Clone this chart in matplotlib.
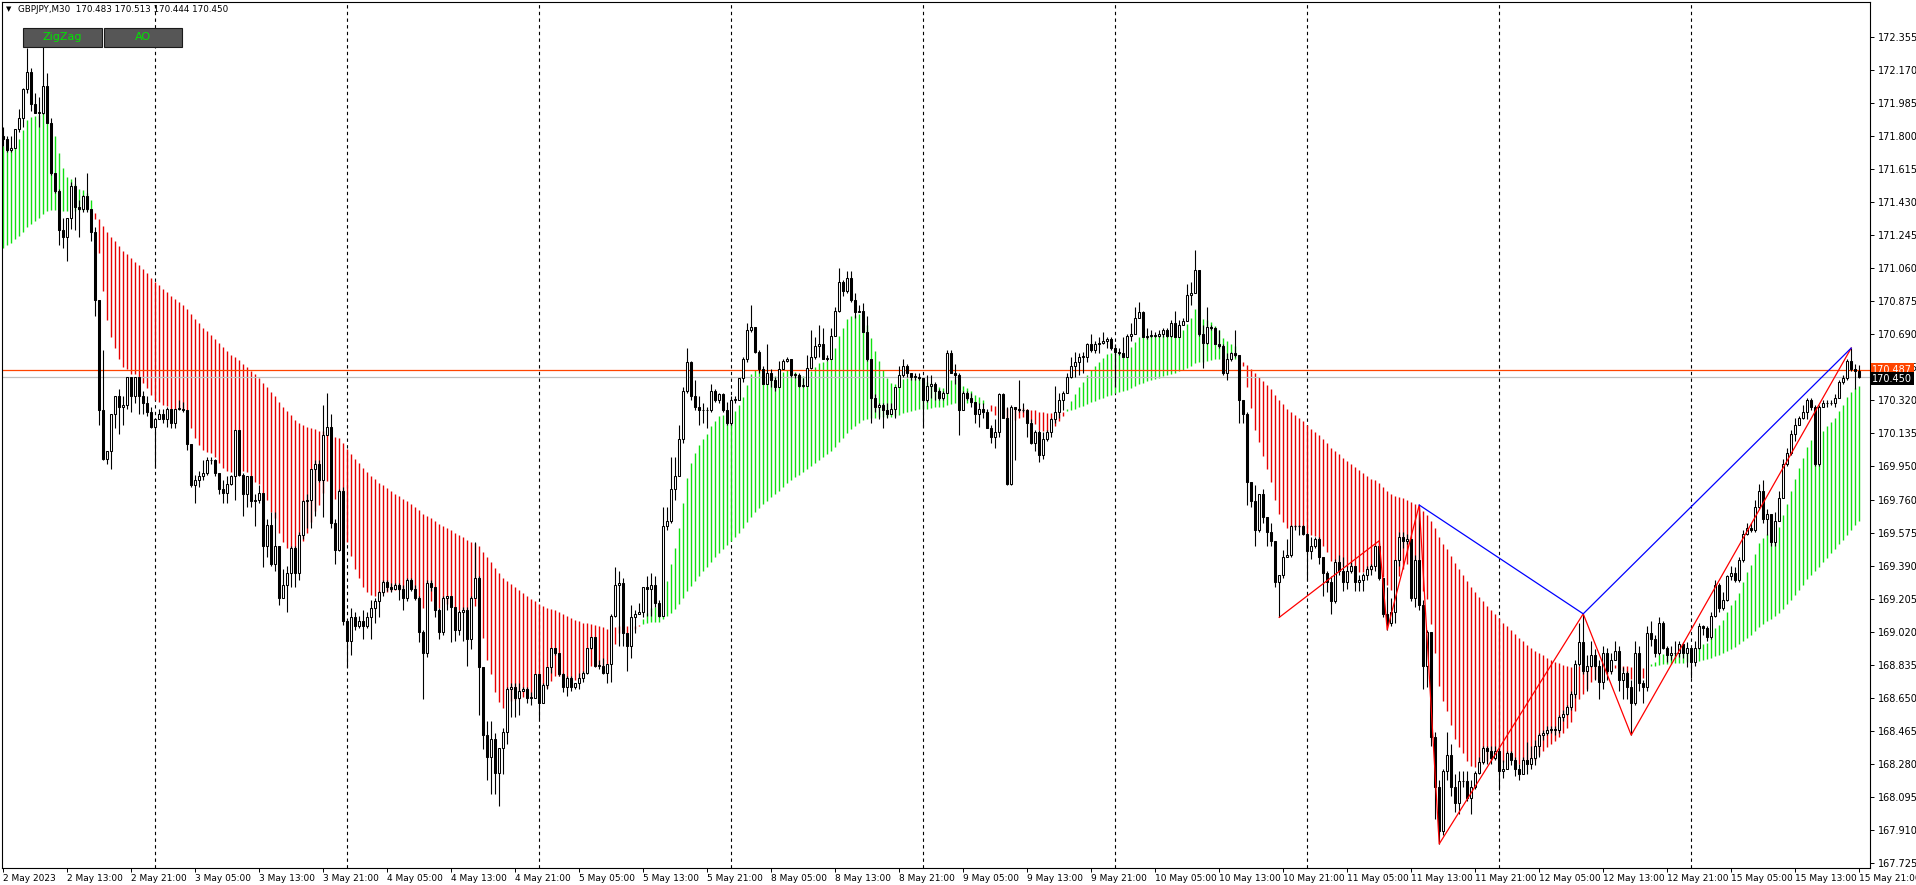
import numpy as np
import matplotlib
matplotlib.use("Agg")
import matplotlib.pyplot as plt
import matplotlib.transforms as mtransforms
from matplotlib.patches import Rectangle

# GBPJPY M30, one value per bar, bar 0 = 2 May 2023 05:00
first_open = 171.80

close = [
    171.78, 171.72, 171.73, 171.84, 171.90, 172.06, 172.16, 171.98, 171.93, 171.93,
    172.08, 171.87, 171.59, 171.49, 171.27, 171.23, 171.34, 171.52, 171.40, 171.39,
    171.46, 171.39, 171.26, 170.88, 170.26, 169.99, 170.03, 170.24, 170.34, 170.28,
    170.29, 170.45, 170.34, 170.45, 170.34, 170.30, 170.25, 170.17, 170.21, 170.24,
    170.21, 170.27, 170.19, 170.27, 170.27, 170.26, 170.07, 169.84, 169.87, 169.89,
    169.91, 169.98, 169.98, 169.91, 169.82, 169.80, 169.85, 169.89, 170.15, 169.90,
    169.79, 169.89, 169.75, 169.76, 169.80, 169.50, 169.62, 169.40, 169.50, 169.21,
    169.28, 169.35, 169.49, 169.35, 169.56, 169.75, 169.76, 169.93, 169.96, 169.87,
    170.12, 170.17, 169.63, 169.48, 169.81, 169.08, 168.97, 169.10, 169.05, 169.08,
    169.05, 169.10, 169.15, 169.19, 169.24, 169.30, 169.27, 169.26, 169.28, 169.26,
    169.21, 169.31, 169.26, 169.21, 169.02, 168.90, 169.29, 169.27, 169.14, 169.02,
    169.21, 169.22, 169.16, 169.03, 169.13, 169.14, 168.98, 169.21, 169.32, 168.82,
    168.44, 168.32, 168.42, 168.23, 168.37, 168.46, 168.70, 168.71, 168.65, 168.69,
    168.70, 168.65, 168.65, 168.78, 168.62, 168.72, 168.82, 168.93, 168.90, 168.78,
    168.71, 168.76, 168.71, 168.73, 168.76, 168.79, 168.93, 168.99, 168.83, 168.83,
    168.79, 168.84, 169.11, 169.28, 169.29, 169.01, 168.94, 169.10, 169.12, 169.13,
    169.27, 169.26, 169.28, 169.18, 169.11, 169.61, 169.64, 169.82, 169.89, 170.10,
    170.37, 170.53, 170.34, 170.28, 170.26, 170.26, 170.26, 170.37, 170.32, 170.35,
    170.26, 170.19, 170.32, 170.32, 170.44, 170.55, 170.71, 170.73, 170.59, 170.49,
    170.41, 170.47, 170.43, 170.39, 170.49, 170.54, 170.55, 170.46, 170.46, 170.40,
    170.40, 170.50, 170.56, 170.62, 170.63, 170.55, 170.55, 170.68, 170.82, 170.98,
    170.93, 171.00, 170.88, 170.81, 170.82, 170.70, 170.55, 170.33, 170.28, 170.29,
    170.26, 170.24, 170.27, 170.39, 170.46, 170.51, 170.47, 170.45, 170.45, 170.44,
    170.32, 170.40, 170.41, 170.37, 170.33, 170.36, 170.58, 170.47, 170.46, 170.26,
    170.36, 170.33, 170.31, 170.24, 170.27, 170.25, 170.16, 170.11, 170.14, 170.35,
    170.22, 169.85, 170.28, 170.27, 170.26, 170.26, 170.19, 170.08, 170.14, 170.01,
    170.10, 170.14, 170.21, 170.25, 170.32, 170.36, 170.45, 170.51, 170.53, 170.56,
    170.56, 170.63, 170.60, 170.63, 170.64, 170.65, 170.66, 170.61, 170.59, 170.58,
    170.56, 170.68, 170.69, 170.78, 170.81, 170.67, 170.68, 170.68, 170.68, 170.69,
    170.71, 170.68, 170.75, 170.67, 170.74, 170.76, 170.91, 170.92, 171.05, 170.69,
    170.64, 170.73, 170.72, 170.63, 170.62, 170.47, 170.55, 170.58, 170.57, 170.32,
    170.24, 169.86, 169.75, 169.59, 169.79, 169.66, 169.58, 169.53, 169.30, 169.34,
    169.44, 169.45, 169.61, 169.61, 169.61, 169.57, 169.47, 169.50, 169.54, 169.44,
    169.35, 169.30, 169.19, 169.41, 169.36, 169.30, 169.36, 169.39, 169.30, 169.31,
    169.34, 169.37, 169.39, 169.50, 169.32, 169.12, 169.07, 169.13, 169.42, 169.55,
    169.53, 169.54, 169.21, 169.42, 169.17, 168.83, 169.02, 168.43, 168.15, 167.90,
    168.24, 168.33, 168.15, 168.06, 168.18, 168.18, 168.09, 168.15, 168.23, 168.29,
    168.37, 168.35, 168.31, 168.35, 168.24, 168.25, 168.34, 168.30, 168.25, 168.22,
    168.30, 168.28, 168.31, 168.38, 168.44, 168.45, 168.47, 168.47, 168.47, 168.54,
    168.56, 168.60, 168.67, 168.84, 168.96, 168.80, 168.83, 168.89, 168.83, 168.74,
    168.90, 168.80, 168.86, 168.91, 168.75, 168.79, 168.71, 168.62, 168.90, 168.73,
    168.71, 169.01, 168.98, 168.90, 169.07, 168.93, 168.89, 168.90, 168.90, 168.95,
    168.90, 168.93, 168.85, 168.93, 169.05, 169.04, 168.99, 169.11, 169.28, 169.15,
    169.20, 169.33, 169.35, 169.31, 169.42, 169.57, 169.60, 169.59, 169.72, 169.81,
    169.65, 169.68, 169.52, 169.64, 169.77, 169.96, 170.02, 170.13, 170.18, 170.22,
    170.25, 170.32, 170.28, 169.96, 170.28, 170.30, 170.30, 170.30, 170.33, 170.42,
    170.44, 170.54, 170.49, 170.483, 170.450,
]

high = [
    171.85, 171.80, 171.80, 171.84, 171.95, 172.07, 172.29, 172.18, 172.04, 172.02,
    172.30, 172.15, 171.90, 171.59, 171.50, 171.34, 171.34, 171.54, 171.57, 171.44,
    171.47, 171.59, 171.39, 171.29, 170.88, 170.60, 170.03, 170.24, 170.34, 170.38,
    170.34, 170.45, 170.45, 170.45, 170.45, 170.37, 170.34, 170.28, 170.22, 170.27,
    170.27, 170.28, 170.27, 170.27, 170.32, 170.31, 170.26, 170.07, 169.90, 169.92,
    169.98, 170.00, 170.00, 169.99, 169.91, 169.87, 169.89, 169.90, 170.15, 170.15,
    169.91, 169.89, 169.89, 169.79, 169.84, 169.80, 169.65, 169.69, 169.69, 169.50,
    169.37, 169.39, 169.50, 169.50, 169.58, 169.76, 169.79, 169.93, 169.98, 169.98,
    170.29, 170.36, 170.24, 169.65, 169.82, 169.83, 169.06, 169.15, 169.13, 169.11,
    169.14, 169.13, 169.20, 169.21, 169.25, 169.31, 169.31, 169.29, 169.29, 169.29,
    169.28, 169.32, 169.32, 169.28, 169.22, 169.03, 169.31, 169.31, 169.27, 169.15,
    169.22, 169.22, 169.22, 169.16, 169.14, 169.16, 169.16, 169.22, 169.52, 169.33,
    168.82, 168.52, 168.52, 168.45, 168.37, 168.48, 168.71, 168.73, 168.73, 168.73,
    168.71, 168.71, 168.68, 168.78, 168.73, 168.73, 168.82, 168.93, 168.93, 168.90,
    168.79, 168.77, 168.77, 168.73, 168.79, 168.80, 168.93, 168.99, 168.99, 168.86,
    168.87, 168.84, 169.12, 169.38, 169.36, 169.32, 169.01, 169.17, 169.14, 169.18,
    169.27, 169.33, 169.35, 169.33, 169.20, 169.72, 169.72, 170.00, 170.00, 170.18,
    170.39, 170.61, 170.54, 170.43, 170.34, 170.30, 170.28, 170.41, 170.38, 170.36,
    170.36, 170.31, 170.34, 170.34, 170.44, 170.56, 170.75, 170.85, 170.73, 170.60,
    170.51, 170.63, 170.49, 170.45, 170.54, 170.55, 170.56, 170.55, 170.47, 170.47,
    170.44, 170.57, 170.71, 170.67, 170.74, 170.72, 170.57, 170.72, 170.84, 171.06,
    170.99, 171.04, 171.04, 170.92, 170.85, 170.86, 170.79, 170.55, 170.35, 170.30,
    170.30, 170.30, 170.30, 170.39, 170.51, 170.55, 170.52, 170.47, 170.47, 170.47,
    170.43, 170.46, 170.46, 170.42, 170.38, 170.37, 170.60, 170.60, 170.52, 170.47,
    170.37, 170.37, 170.36, 170.29, 170.30, 170.30, 170.27, 170.18, 170.21, 170.36,
    170.36, 170.28, 170.29, 170.28, 170.43, 170.30, 170.27, 170.21, 170.15, 170.15,
    170.14, 170.15, 170.22, 170.40, 170.36, 170.37, 170.47, 170.56, 170.59, 170.58,
    170.59, 170.64, 170.69, 170.65, 170.67, 170.70, 170.67, 170.67, 170.63, 170.61,
    170.67, 170.69, 170.75, 170.84, 170.87, 170.82, 170.72, 170.71, 170.70, 170.71,
    170.72, 170.72, 170.77, 170.82, 170.77, 170.78, 170.97, 170.98, 171.16, 171.05,
    170.74, 170.84, 170.74, 170.73, 170.71, 170.63, 170.58, 170.59, 170.71, 170.50,
    170.32, 170.25, 169.86, 169.84, 169.79, 169.82, 169.66, 169.63, 169.53, 169.34,
    169.48, 169.54, 169.62, 169.62, 169.62, 169.62, 169.50, 169.55, 169.55, 169.55,
    169.44, 169.36, 169.33, 169.43, 169.45, 169.44, 169.39, 169.41, 169.36, 169.34,
    169.35, 169.39, 169.40, 169.50, 169.53, 169.32, 169.27, 169.21, 169.42, 169.58,
    169.58, 169.57, 169.54, 169.45, 169.73, 169.20, 169.03, 169.02, 168.46, 168.19,
    168.25, 168.46, 168.39, 168.22, 168.24, 168.24, 168.24, 168.19, 168.24, 168.32,
    168.38, 168.38, 168.38, 168.38, 168.38, 168.30, 168.35, 168.35, 168.32, 168.28,
    168.32, 168.40, 168.38, 168.41, 168.45, 168.47, 168.49, 168.49, 168.49, 168.55,
    168.58, 168.61, 168.69, 168.86, 169.07, 169.12, 168.89, 168.97, 168.92, 168.86,
    168.94, 168.93, 168.90, 168.97, 168.94, 168.82, 168.80, 168.75, 168.97, 168.94,
    168.75, 169.05, 169.08, 169.00, 169.10, 169.08, 168.94, 168.94, 168.97, 168.97,
    168.96, 168.96, 168.92, 168.97, 169.07, 169.06, 169.05, 169.13, 169.31, 169.29,
    169.24, 169.34, 169.39, 169.38, 169.44, 169.59, 169.63, 169.63, 169.76, 169.85,
    169.87, 169.71, 169.68, 169.69, 169.81, 169.99, 170.05, 170.15, 170.22, 170.23,
    170.29, 170.33, 170.33, 170.29, 170.29, 170.32, 170.32, 170.32, 170.35, 170.43,
    170.46, 170.55, 170.61, 170.52, 170.513,
]

low = [
    171.74, 171.71, 171.71, 171.73, 171.82, 171.85, 172.04, 171.94, 171.93, 171.85,
    171.92, 171.87, 171.58, 171.48, 171.19, 171.17, 171.10, 171.28, 171.27, 171.23,
    171.37, 171.37, 171.21, 170.79, 170.18, 169.98, 169.96, 169.93, 170.16, 170.13,
    170.18, 170.27, 170.25, 170.30, 170.24, 170.24, 170.23, 170.16, 169.94, 170.22,
    170.19, 170.17, 170.16, 170.16, 170.26, 170.25, 170.04, 169.83, 169.74, 169.83,
    169.87, 169.90, 169.96, 169.89, 169.79, 169.74, 169.74, 169.84, 169.76, 169.89,
    169.67, 169.72, 169.72, 169.61, 169.74, 169.38, 169.44, 169.39, 169.36, 169.17,
    169.21, 169.13, 169.27, 169.27, 169.31, 169.54, 169.60, 169.60, 169.67, 169.86,
    169.66, 170.12, 169.60, 169.40, 169.47, 169.06, 168.82, 168.89, 169.03, 169.04,
    168.98, 169.04, 168.98, 169.07, 169.10, 169.22, 169.25, 169.24, 169.26, 169.20,
    169.14, 169.19, 169.25, 169.20, 168.96, 168.64, 168.88, 169.25, 169.10, 168.98,
    169.00, 169.14, 168.96, 168.97, 169.00, 168.97, 168.83, 168.92, 169.21, 168.55,
    168.36, 168.19, 168.11, 168.11, 168.04, 168.22, 168.39, 168.54, 168.54, 168.55,
    168.69, 168.62, 168.61, 168.65, 168.53, 168.68, 168.70, 168.79, 168.89, 168.77,
    168.68, 168.66, 168.69, 168.70, 168.70, 168.74, 168.78, 168.92, 168.82, 168.81,
    168.78, 168.73, 168.74, 169.10, 168.94, 168.94, 168.80, 168.87, 169.01, 169.12,
    169.10, 169.11, 169.11, 169.16, 169.10, 169.12, 169.59, 169.63, 169.76, 169.89,
    170.08, 170.36, 170.32, 170.26, 170.18, 170.19, 170.16, 170.25, 170.31, 170.30,
    170.25, 170.18, 170.18, 170.30, 170.32, 170.42, 170.53, 170.70, 170.58, 170.47,
    170.41, 170.41, 170.39, 170.37, 170.44, 170.49, 170.53, 170.45, 170.44, 170.39,
    170.39, 170.42, 170.49, 170.55, 170.56, 170.55, 170.54, 170.55, 170.68, 170.81,
    170.90, 170.92, 170.87, 170.78, 170.81, 170.70, 170.54, 170.19, 170.25, 170.21,
    170.16, 170.22, 170.24, 170.22, 170.39, 170.45, 170.45, 170.43, 170.43, 170.43,
    170.17, 170.31, 170.33, 170.32, 170.32, 170.32, 170.36, 170.47, 170.41, 170.12,
    170.26, 170.32, 170.28, 170.19, 170.17, 170.22, 170.16, 170.08, 170.05, 170.11,
    170.22, 169.84, 169.84, 169.98, 170.25, 170.25, 170.11, 170.07, 170.03, 169.97,
    169.99, 170.09, 170.11, 170.19, 170.22, 170.26, 170.36, 170.44, 170.45, 170.46,
    170.47, 170.53, 170.59, 170.58, 170.58, 170.63, 170.61, 170.60, 170.39, 170.57,
    170.56, 170.56, 170.65, 170.69, 170.78, 170.67, 170.66, 170.67, 170.67, 170.67,
    170.67, 170.67, 170.67, 170.67, 170.67, 170.74, 170.76, 170.85, 170.92, 170.68,
    170.50, 170.63, 170.71, 170.63, 170.61, 170.46, 170.43, 170.54, 170.56, 170.19,
    170.19, 169.73, 169.72, 169.50, 169.58, 169.63, 169.50, 169.50, 169.27, 169.10,
    169.32, 169.44, 169.44, 169.59, 169.56, 169.56, 169.31, 169.43, 169.49, 169.40,
    169.22, 169.24, 169.12, 169.18, 169.34, 169.25, 169.26, 169.35, 169.25, 169.25,
    169.25, 169.31, 169.34, 169.36, 169.31, 169.10, 169.03, 169.05, 169.07, 169.39,
    169.49, 169.51, 169.19, 169.16, 169.14, 168.70, 168.71, 168.38, 167.97, 167.83,
    167.88, 168.19, 168.10, 168.01, 168.00, 168.15, 168.07, 168.00, 168.14, 168.22,
    168.28, 168.28, 168.28, 168.30, 168.13, 168.20, 168.25, 168.27, 168.21, 168.19,
    168.22, 168.22, 168.25, 168.27, 168.32, 168.41, 168.44, 168.45, 168.44, 168.45,
    168.52, 168.55, 168.58, 168.65, 168.83, 168.78, 168.69, 168.82, 168.75, 168.64,
    168.70, 168.75, 168.78, 168.86, 168.69, 168.64, 168.64, 168.44, 168.61, 168.69,
    168.62, 168.69, 168.94, 168.88, 168.89, 168.92, 168.85, 168.86, 168.87, 168.88,
    168.87, 168.82, 168.76, 168.83, 168.92, 169.00, 168.97, 168.98, 169.10, 169.13,
    169.14, 169.19, 169.31, 169.30, 169.30, 169.41, 169.56, 169.58, 169.58, 169.71,
    169.63, 169.56, 169.50, 169.50, 169.67, 169.80, 169.95, 170.01, 170.09, 170.18,
    170.21, 170.21, 170.26, 169.95, 169.95, 170.28, 170.28, 170.29, 170.28, 170.33,
    170.41, 170.43, 170.48, 170.38, 170.444,
]

fast_period, slow_period = 10, 70
fast_start, slow_start = 171.74, 171.17

# zigzag turning points (bar index, price)
zz_red_bars = [319, 344, 346, 354, 359, 395, 407, 462]
zz_red_prices = [169.10, 169.53, 169.03, 169.73, 167.83, 169.12, 168.44, 170.61]
zz_blue_bars = [354, 395, 462]
zz_blue_prices = [169.73, 169.12, 170.61]

ask_price = 170.487
bid_price = 170.450

day_breaks = [38, 86, 134, 182, 230, 278, 326, 374, 422]

x_tick_bars = list(range(0, 465, 16))
x_tick_labels = [
    "2 May 2023", "2 May 13:00", "2 May 21:00", "3 May 05:00", "3 May 13:00",
    "3 May 21:00", "4 May 05:00", "4 May 13:00", "4 May 21:00", "5 May 05:00",
    "5 May 13:00", "5 May 21:00", "8 May 05:00", "8 May 13:00", "8 May 21:00",
    "9 May 05:00", "9 May 13:00", "9 May 21:00", "10 May 05:00", "10 May 13:00",
    "10 May 21:00", "11 May 05:00", "11 May 13:00", "11 May 21:00", "12 May 05:00",
    "12 May 13:00", "12 May 21:00", "15 May 05:00", "15 May 13:00", "15 May 21:00",
]
y_tick_labels = [
    "172.355", "172.170", "171.985", "171.800", "171.615", "171.430", "171.245",
    "171.060", "170.875", "170.690", "170.505", "170.320", "170.135", "169.950",
    "169.760", "169.575", "169.390", "169.205", "169.020", "168.835", "168.650",
    "168.465", "168.280", "168.095", "167.910", "167.725",
]

header = "GBPJPY,M30  170.483 170.513 170.444 170.450"

# ---------------------------------------------------------------------------
close = np.array(close)
high = np.array(high)
low = np.array(low)
opens = np.concatenate([[first_open], close[:-1]])
x = np.arange(len(close))

fast = [fast_start]
slow = [slow_start]
for c in close[1:]:
    fast.append(fast[-1] + (c - fast[-1]) * 2 / (fast_period + 1))
    slow.append(slow[-1] + (c - slow[-1]) * 2 / (slow_period + 1))
fast = np.array(fast)
slow = np.array(slow)

W, H = 1916, 885
fig = plt.figure(figsize=(W / 100, H / 100), dpi=100)
ax = fig.add_axes([2 / W, (H - 868) / H, (1870 - 2) / W, (868 - 2) / H])
ax.set_xlim(-0.325, 466.7)
ax.set_ylim(167.695, 172.550)

# day separators
for b in day_breaks:
    ax.axvline(b, color="black", linestyle=(0, (3, 3)), linewidth=0.8, zorder=0.5)

# ribbon histogram
rib_colors = np.where(fast > slow, "#10E010", "#E60000")
ax.vlines(x, np.minimum(fast, slow), np.maximum(fast, slow),
          colors=rib_colors, linewidth=1.0, zorder=1)

# ask / bid lines
ax.axhline(ask_price, color="#FF4500", linewidth=0.9, zorder=1.5)
ax.axhline(bid_price, color="#C0C0C0", linewidth=0.9, zorder=1.5)

# candles
body_lo = np.minimum(opens, close)
body_hi = np.maximum(opens, close)
ax.vlines(x, np.minimum(low, body_lo), np.maximum(high, body_hi),
          color="black", linewidth=0.8, zorder=2.9)
fills = np.where(close >= opens, "white", "black")
ax.bar(x, np.maximum(body_hi - body_lo, 0.003), bottom=body_lo, width=0.5,
       color=fills, edgecolor="black", linewidth=0.75, zorder=3)

# zigzag
ax.plot(zz_red_bars, zz_red_prices, color="#FF0000", linewidth=0.9, zorder=4)
ax.plot(zz_blue_bars, zz_blue_prices, color="#0000FF", linewidth=0.9, zorder=4)

# axes styling
for s in ax.spines.values():
    s.set_linewidth(0.8)
    s.set_color("black")
ax.yaxis.tick_right()
ax.set_yticks([float(t) for t in y_tick_labels])
ax.set_yticklabels(y_tick_labels)
ax.set_xticks(x_tick_bars)
ax.set_xticklabels(x_tick_labels, ha="left")
ax.tick_params(axis="both", labelsize=7, length=3, width=0.7, colors="black")
ax.tick_params(axis="x", pad=1, labelsize=6.5)
ax.tick_params(axis="y", pad=3)

# price tags on the right scale
trans = mtransforms.blended_transform_factory(ax.transAxes, ax.transData)
ax.text(1.0012, ask_price, f"{ask_price:.3f}", transform=trans, color="white",
        fontsize=7, va="center", ha="left", clip_on=False, zorder=6,
        bbox=dict(facecolor="#FF4500", edgecolor="none", pad=1.2))
ax.text(1.0012, bid_price - 0.012, f"{bid_price:.3f}", transform=trans, color="white",
        fontsize=7, va="center", ha="left", clip_on=False, zorder=7,
        bbox=dict(facecolor="black", edgecolor="none", pad=1.2))

# header and buttons
fig.text(6 / W, 1 - 9 / H, "\u25bc", fontsize=5, va="center", ha="left")
fig.text(18 / W, 1 - 9 / H, header, fontsize=6.3, va="center", ha="left")
for x0, x1, label in [(23, 102, "ZigZag"), (104, 182, "AO")]:
    fig.add_artist(Rectangle((x0 / W, 1 - 47 / H), (x1 - x0) / W, 19 / H,
                             transform=fig.transFigure, facecolor="#565656",
                             edgecolor="#1a1a1a", linewidth=0.8))
    fig.text((x0 + x1) / 2 / W, 1 - 37.5 / H, label, color="#00E600",
             fontsize=8, va="center", ha="center")

fig.savefig("out.png", dpi=100, facecolor="white")
